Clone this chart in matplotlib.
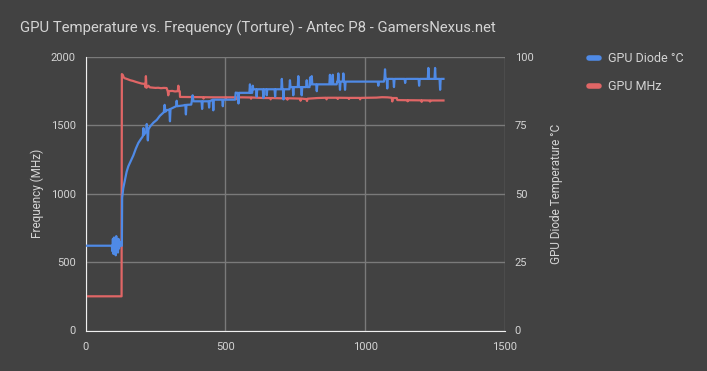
import matplotlib
matplotlib.use("Agg")
import matplotlib.pyplot as plt

# ---- data ----
temp_t = [0, 94, 96, 98, 100, 102, 104, 106, 108, 110, 112, 114, 116, 118, 120, 122, 124, 128, 130, 131,
          135, 141, 147, 153, 162, 171, 180, 189, 198, 205, 207, 209, 217, 219, 221, 223, 225, 231, 243, 255,
          266, 280, 283, 286, 290, 300, 302, 304, 314, 324, 326, 328, 350, 357, 359, 361, 374, 378, 380, 383,
          386, 415, 417, 419, 440, 442, 444, 455, 457, 459, 489, 491, 493, 535, 537, 540, 545, 547, 549, 586,
          588, 590, 596, 598, 600, 610, 612, 614, 634, 636, 638, 646, 648, 650, 676, 678, 680, 700, 702, 704,
          706, 708, 710, 729, 731, 733, 741, 743, 745, 759, 761, 763, 771, 773, 775, 789, 791, 793, 801, 803,
          805, 807, 809, 811, 825, 827, 829, 872, 874, 876, 882, 884, 886, 898, 900, 902, 904, 906, 908, 910,
          912, 920, 922, 924, 926, 928, 930, 1045, 1047, 1049, 1067, 1069, 1071, 1073, 1077, 1079, 1081, 1101, 1103, 1105,
          1141, 1143, 1145, 1191, 1193, 1195, 1224, 1226, 1228, 1248, 1250, 1252, 1266, 1268, 1270, 1280]
temp_c = [31, 31, 29, 33.5, 28, 34, 29.5, 33, 27.5, 34.5, 29, 33, 28.5, 33.5, 30, 32.5, 31, 31, 31, 48.5,
          52, 55, 58, 60, 62, 64, 66.5, 68.6, 70, 71, 74, 71.5, 72.8, 75.5, 73, 69.5, 73.5, 74.6, 76, 77,
          78.5, 79.8, 82.5, 80, 80.5, 80.8, 76.5, 81, 81.5, 82, 84, 82, 82.3, 82.5, 79, 82.5, 82.6, 82.6, 83.8, 86,
          83.8, 83.8, 81, 83.8, 83.8, 81.5, 83.8, 84.4, 80.5, 84.4, 84.4, 82, 84.4, 84.4, 87, 86.9, 86.9, 83, 86.9, 86.9,
          90, 86.9, 86.9, 89.5, 88.2, 88.2, 85.5, 88.2, 88.2, 85, 88.2, 88.2, 86, 88.2, 88.2, 85.5, 88.2, 88.2, 92, 88.2,
          88.2, 84.5, 88.2, 88.2, 91.5, 89, 89, 86, 89, 89, 93, 89, 89, 86, 89, 89, 91.5, 89, 89, 92.5,
          90, 90, 93, 90, 90, 87.5, 90, 90, 93.5, 90, 90, 93.5, 90, 90, 91, 91, 94, 91, 91, 88,
          91, 91, 94, 91, 91, 88, 91, 91, 89.5, 91, 91, 92, 95.5, 92, 92, 88.5, 92, 92, 89, 92,
          92, 90.5, 92, 92, 89.5, 92, 92, 96, 92, 92, 96, 92, 92, 88, 92, 92]

freq_t = [0, 129, 130, 133, 137, 140, 150, 160, 170, 180, 190, 200, 212, 214, 216, 218, 225, 230, 240, 250,
          260, 270, 280, 290, 294, 296, 298, 310, 320, 330, 332, 334, 337, 338, 380, 382, 384, 420, 422, 424,
          460, 500, 502, 504, 540, 542, 544, 560, 590, 592, 594, 636, 660, 662, 664, 700, 720, 722, 724, 767,
          769, 771, 790, 792, 794, 830, 860, 862, 864, 900, 902, 904, 940, 942, 944, 980, 982, 984, 1040, 1060,
          1080, 1095, 1097, 1099, 1113, 1115, 1150, 1152, 1154, 1200, 1202, 1204, 1230, 1232, 1234, 1280]
freq_mhz = [250, 250, 1875, 1870, 1850, 1845, 1838, 1830, 1825, 1818, 1812, 1806, 1803, 1780, 1860, 1775, 1790, 1778, 1776, 1774,
            1775, 1772, 1774, 1773, 1750, 1720, 1750, 1752, 1748, 1750, 1790, 1750, 1750, 1708, 1707, 1695, 1707, 1706, 1696, 1706,
            1705, 1705, 1694, 1705, 1705, 1690, 1705, 1705, 1704, 1695, 1704, 1700, 1700, 1690, 1700, 1698, 1698, 1688, 1698, 1696,
            1680, 1696, 1692, 1678, 1695, 1700, 1702, 1690, 1702, 1702, 1693, 1702, 1701, 1693, 1701, 1701, 1690, 1701, 1703, 1706,
            1705, 1702, 1675, 1700, 1700, 1685, 1684, 1676, 1684, 1683, 1672, 1683, 1682, 1674, 1682, 1682]

x_ticks = [0, 500, 1000, 1500]
y_ticks_left = [0, 500, 1000, 1500, 2000]
y_ticks_right = [0, 25, 50, 75, 100]

title = "GPU Temperature vs. Frequency (Torture) - Antec P8 - GamersNexus.net"
series_names = ["GPU Diode °C", "GPU MHz"]

# ---- style ----
BG = "#424242"
TXT = "#d4d4d4"
GRID = "#7a7a7a"
BLUE = "#4f8ae6"
RED = "#e06666"
plt.rcParams['font.family'] = ['Roboto', 'DejaVu Sans']

fig = plt.figure(figsize=(7.07, 3.71), dpi=100, facecolor=BG)
ax = fig.add_axes([85.5/707, 1-330.5/371, (505-85.5)/707, (330.5-57)/371])
ax.set_facecolor(BG)
ax2 = ax.twinx()

ax.set_xlim(0, 1500)
ax.set_ylim(0, 2000)
ax2.set_ylim(0, 100)
ax.set_xticks(x_ticks)
ax.set_yticks(y_ticks_left)
ax2.set_yticks(y_ticks_right)
ax.grid(True, color=GRID, linewidth=1)
ax.set_axisbelow(True)

for a in (ax, ax2):
    for s in a.spines.values():
        s.set_visible(False)
    a.tick_params(length=0, colors=TXT, labelsize=8)
ax.spines['left'].set_visible(True)
ax.spines['bottom'].set_visible(True)
ax.spines['left'].set_color('#f0f0f0')
ax.spines['bottom'].set_color('#f0f0f0')
ax.tick_params(axis='y', pad=7)
ax.tick_params(axis='x', pad=8)
ax2.tick_params(axis='y', pad=7)

l1, = ax2.plot(temp_t, temp_c, color=BLUE, linewidth=1.6, label=series_names[0], zorder=3)
l2, = ax.plot(freq_t, freq_mhz, color=RED, linewidth=1.6, label=series_names[1], zorder=2)

ax.set_ylabel("Frequency (MHz)", color=TXT, fontsize=8.5, labelpad=5)
ax2.set_ylabel("GPU Diode Temperature °C", color=TXT, fontsize=8.5, labelpad=12)

fig.text(20/707, 1-28/371, title, color=TXT, fontsize=10.7, va='center', ha='left')

leg = fig.legend([l1, l2], series_names, loc='upper left',
                 bbox_to_anchor=(578/707, 1-41/371), frameon=False,
                 handlelength=0.75, handletextpad=0.75, labelspacing=1.2,
                 fontsize=9)
for t in leg.get_texts():
    t.set_color(TXT)
for h in leg.legend_handles:
    h.set_linewidth(4)
    h.set_solid_capstyle('round')

fig.savefig("out.png", dpi=100, facecolor=BG)
